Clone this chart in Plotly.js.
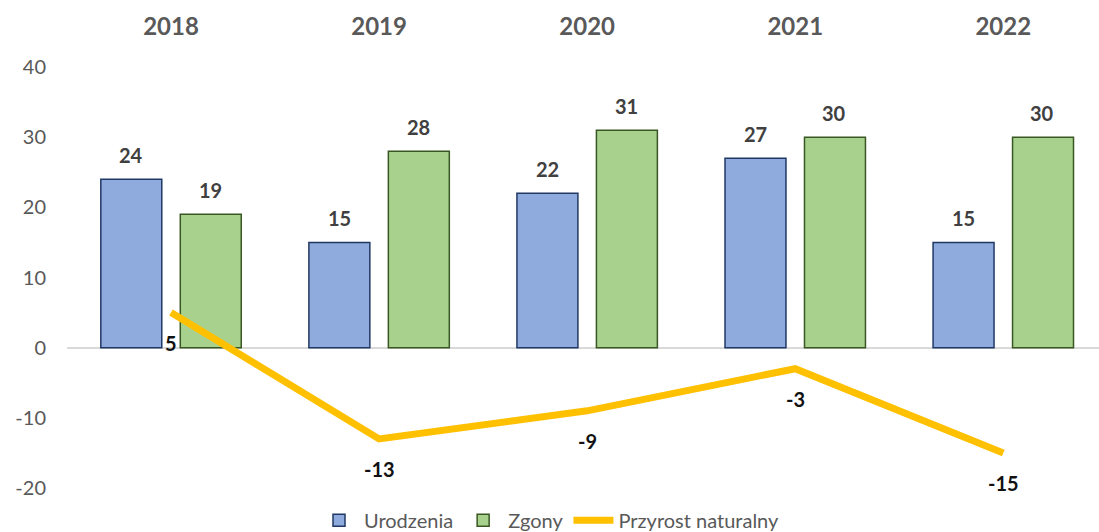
<!DOCTYPE html>
<html>
<head>
<meta charset="utf-8">
<script src="https://cdn.plot.ly/plotly-3.0.1.min.js"></script>
<style>html,body{margin:0;padding:0;background:#fff}#chart{width:1099px;height:532px}</style>
</head>
<body>
<div id="chart"></div>
<script>
const years = ['2018', '2019', '2020', '2021', '2022'];
const urodzenia = [24, 15, 22, 27, 15];
const zgony = [19, 28, 31, 30, 30];
const przyrost = [5, -13, -9, -3, -15];
const yTicks = [-20, -10, 0, 10, 20, 30, 40];

const FONT = 'Lato, "Open Sans", sans-serif';

const traces = [
  {type: 'bar', name: 'Urodzenia', x: years, y: urodzenia,
   marker: {color: '#8FAADC', line: {color: '#203864', width: 1.5}}, hoverinfo: 'skip'},
  {type: 'bar', name: 'Zgony', x: years, y: zgony,
   marker: {color: '#A9D18E', line: {color: '#385723', width: 1.5}}, hoverinfo: 'skip'},
  {type: 'scatter', mode: 'lines', name: 'Przyrost naturalny', x: years, y: przyrost,
   line: {color: '#FFC000', width: 7}, hoverinfo: 'skip'}
];

// category axis: annotation x given as category index
const annotations = [];
years.forEach((yr, i) => {
  annotations.push({x: i, y: urodzenia[i], xref: 'x', yref: 'y', text: String(urodzenia[i]),
    showarrow: false, xshift: -40, yshift: 24, yanchor: 'middle',
    font: {family: FONT, size: 20, color: '#404040', weight: 'bold'}});
  annotations.push({x: i, y: zgony[i], xref: 'x', yref: 'y', text: String(zgony[i]),
    showarrow: false, xshift: 39, yshift: 24, yanchor: 'middle',
    font: {family: FONT, size: 20, color: '#404040', weight: 'bold'}});
  annotations.push({x: i, y: przyrost[i], xref: 'x', yref: 'y', text: String(przyrost[i]),
    showarrow: false, yshift: -30, yanchor: 'middle',
    font: {family: FONT, size: 20, color: '#111111', weight: 'bold'}});
});

const layout = {
  width: 1099, height: 532,
  margin: {l: 67, r: 0, t: 67, b: 44},
  paper_bgcolor: '#ffffff', plot_bgcolor: '#ffffff',
  font: {family: FONT, color: '#595959'},
  barmode: 'group', bargap: 0.236, bargroupgap: 0.233,
  showlegend: true,
  legend: {orientation: 'h', xref: 'container', yref: 'container', x: 0.5, xanchor: 'center',
    y: 0.022, yanchor: 'middle', font: {family: FONT, size: 20, color: '#595959'},
    itemwidth: 40, traceorder: 'normal', bgcolor: 'rgba(0,0,0,0)'},
  xaxis: {type: 'category', side: 'top', range: [-0.5, 4.46], showgrid: false, zeroline: false,
    showline: false, ticks: '', ticklabelstandoff: 26,
    tickfont: {family: FONT, size: 24, color: '#595959', weight: 'bold'}, fixedrange: true},
  yaxis: {range: [-20, 40], tickvals: yTicks, ticktext: yTicks.map(String), showgrid: false,
    zeroline: true, zerolinecolor: '#D9D9D9', zerolinewidth: 2, showline: false, ticks: '',
    ticklabelstandoff: 20, tickfont: {family: FONT, size: 20, color: '#595959'}, fixedrange: true},
  annotations: annotations
};

Plotly.newPlot('chart', traces, layout, {displayModeBar: false, staticPlot: true});
</script>
</body>
</html>
